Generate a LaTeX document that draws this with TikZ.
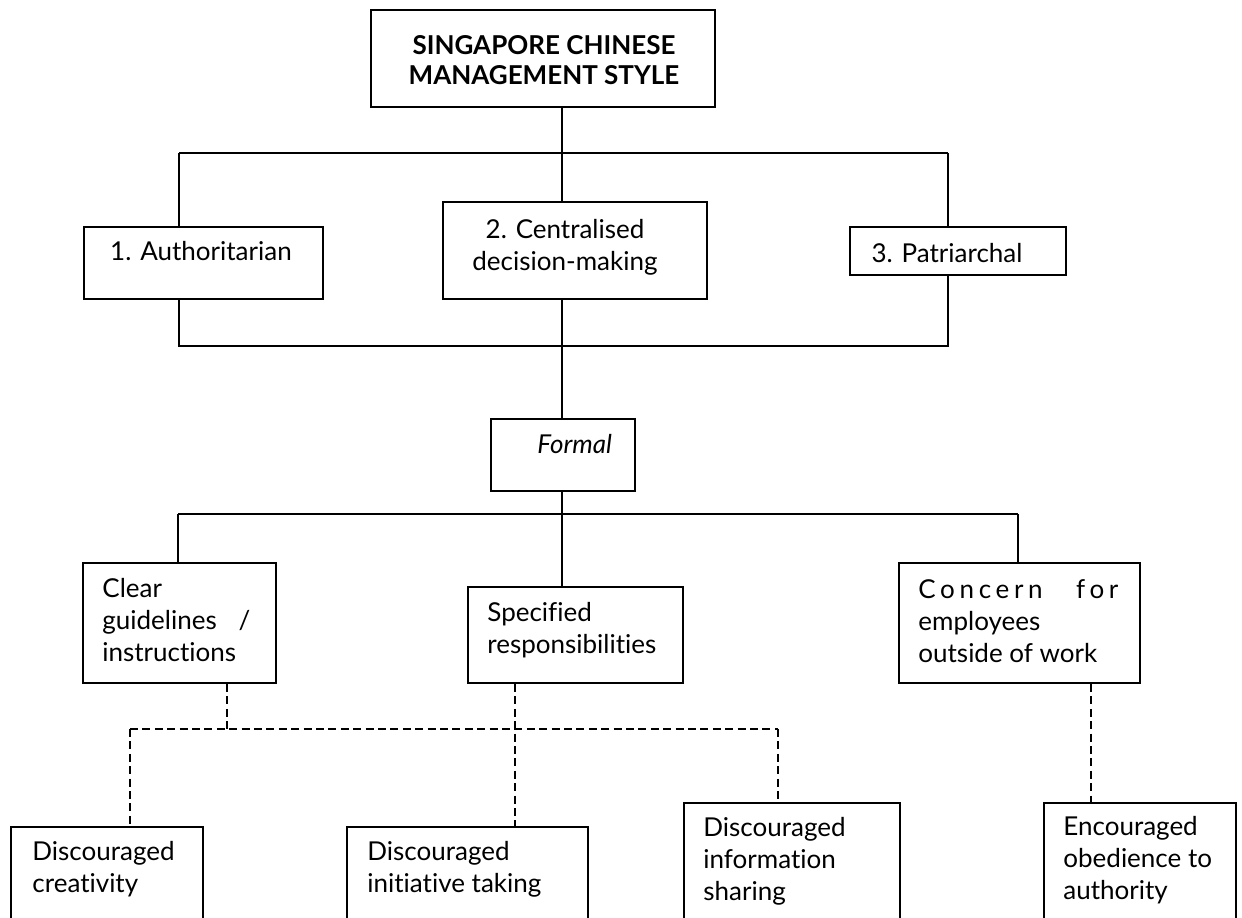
\documentclass[tikz,border=0pt]{standalone}
\usepackage{fontspec}
\setmainfont{Lato}[Ligatures={NoCommon,NoRare,NoDiscretionary}]
\begin{document}
\begin{tikzpicture}[x=0.5pt,y=-0.5pt,
  box/.style={draw,line width=1pt,inner sep=0pt,anchor=north west},
  txt/.style={inner sep=0pt,font=\fontsize{13pt}{16pt}\selectfont},
  conn/.style={line width=1pt},
  dconn/.style={line width=1pt,dash pattern=on 4pt off 2.2pt}]
\useasboundingbox (0,0) rectangle (1242,917);
\clip (0,0) rectangle (1242,917);
\fill[white] (0,0) rectangle (1242,917);
% boxes: name, x1,y1,x2,y2
\newcommand\mkbox[5]{\node[box,minimum width={(#4-#2)*0.5pt},minimum height={(#5-#3)*0.5pt}] (#1) at (#2,#3) {};}
\mkbox{title}{370}{9}{714}{106}
\mkbox{a1}{83}{226}{322}{298}
\mkbox{a2}{442}{201}{706}{298}
\mkbox{a3}{849}{226}{1065}{274}
\mkbox{formal}{490}{418}{634}{490}
\mkbox{clear}{82}{562}{275}{682}
\mkbox{spec}{467}{586}{682}{682}
\mkbox{concern}{898}{562}{1139}{682}
\mkbox{crea}{10}{826}{202}{960}
\mkbox{init}{346}{826}{587}{960}
\mkbox{info}{683}{802}{899}{960}
\mkbox{enc}{1043}{802}{1235}{960}
% texts
\node[txt,anchor=base] (ttitle) at (544,54) {\parbox[t]{170pt}{\centering\bfseries\baselineskip=15pt SINGAPORE CHINESE\\MANAGEMENT STYLE}};
\node[txt,anchor=base] (ta1) at (201,260) {1. Authoritarian};
\node[txt,anchor=base] (ta2) at (565,238) {\parbox[t]{120pt}{\centering 2. Centralised\\decision-making}};
\node[txt,anchor=base] (ta3) at (947,262) {3. Patriarchal};
\node[txt,anchor=base west] (tformal) at (537,453) {\itshape Formal};
\node[txt,anchor=base west] (tclear) at (102,597) {\parbox[t]{74pt}{Clear\\guidelines\hfill /\\instructions}};
\node[txt,anchor=base west] (tspec) at (487,621) {\parbox[t]{90pt}{Specified\\responsibilities}};
\node[txt,anchor=base west] (tconcern) at (918,598) {\parbox[t]{100pt}{{\addfontfeature{LetterSpace=18}Concern}\hfill{\addfontfeature{LetterSpace=18}for}\\employees\\outside of work}};
\node[txt,anchor=base west] (tcrea) at (32,860) {\parbox[t]{90pt}{Discouraged\\creativity}};
\node[txt,anchor=base west] (tinit) at (367,860) {\parbox[t]{110pt}{Discouraged\\initiative taking}};
\node[txt,anchor=base west] (tinfo) at (703,836) {\parbox[t]{90pt}{Discouraged\\information\\sharing}};
\node[txt,anchor=base west] (tenc) at (1063,835) {\parbox[t]{90pt}{Encouraged\\obedience to\\authority}};
% bus coordinates
\coordinate (b1L) at (179,153); \coordinate (b1C) at (562,153); \coordinate (b1R) at (948,153);
\coordinate (b2L) at (179,346); \coordinate (b2C) at (562,346); \coordinate (b2R) at (948,346);
\coordinate (b3L) at (178,514); \coordinate (b3C) at (562,514); \coordinate (b3R) at (1018,514);
\coordinate (d1) at (227,729); \coordinate (dL) at (130,729); \coordinate (dR) at (778,729);
\coordinate (dS) at (515,729); \coordinate (dE) at (1091,729);
% solid connectors
\draw[conn] (title.south -| b1C) -- (b1C);
\draw[conn] (b1L) -- (b1R);
\draw[conn] (b1L) -- (a1.north -| b1L);
\draw[conn] (b1C) -- (a2.north -| b1C);
\draw[conn] (b1R) -- (a3.north -| b1R);
\draw[conn] (a1.south -| b2L) -- (b2L) -- (b2R) -- (a3.south -| b2R);
\draw[conn] (a2.south -| b2C) -- (formal.north -| b2C);
\draw[conn] (formal.south -| b3C) -- (b3C);
\draw[conn] (b3L) -- (b3R);
\draw[conn] (b3L) -- (clear.north -| b3L);
\draw[conn] (b3C) -- (spec.north -| b3C);
\draw[conn] (b3R) -- (concern.north -| b3R);
% dashed connectors
\draw[dconn] (clear.south -| d1) -- (d1);
\draw[dconn] (dL) -- (dR);
\draw[dconn] (dL) -- (crea.north -| dL);
\draw[dconn] (dR) -- (info.north -| dR);
\draw[dconn] (spec.south -| dS) -- (init.north -| dS);
\draw[dconn] (concern.south -| dE) -- (enc.north -| dE);
\end{tikzpicture}
\end{document}
